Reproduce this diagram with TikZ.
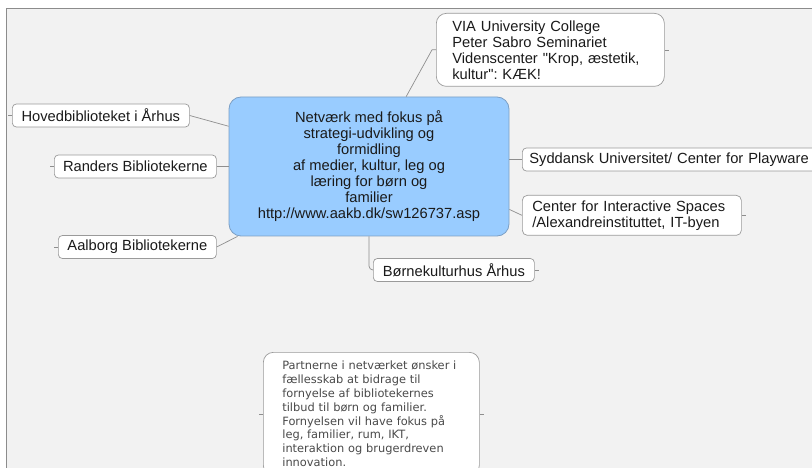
\documentclass[tikz,border=0pt]{standalone}
\usepackage{fontspec}
\setmainfont{Liberation Sans}
\newfontfamily\notefont{DejaVu Sans}
\usepackage{tikz}
\usetikzlibrary{positioning,calc}
\frenchspacing
\definecolor{canvas}{HTML}{F2F2F2}
\definecolor{framegray}{HTML}{8C8C8C}
\definecolor{ink}{HTML}{1A1A1A}
\definecolor{notegray}{HTML}{4A4A4A}
\definecolor{topicblue}{HTML}{99CCFF}
\definecolor{topicedge}{HTML}{7C9FC4}
\definecolor{leafedge}{HTML}{9A9A9A}
\definecolor{linkgray}{HTML}{8E8E8E}
\newcommand{\mapsize}{\fontsize{14.7}{16}\selectfont}
\newcommand{\notesize}{\notefont\fontsize{11.4}{13.8}\selectfont}
\newcommand{\dq}{\XeTeXglyph\XeTeXglyphindex "quotedbl"\relax}
\tikzset{
  topic/.style={draw=topicedge,fill=topicblue,line width=0.8pt,
                rounded corners=12pt,align=center,font=\mapsize,text=ink,
                inner sep=0pt,minimum width=280pt,minimum height=139pt},
  leaf/.style={draw=leafedge,fill=white,line width=0.7pt,rounded corners=4pt,
               font=\mapsize,text=ink,inner xsep=7pt,inner ysep=0pt,
               minimum height=23pt,anchor=west},
  bigleaf/.style={leaf,rounded corners=10pt,align=left,anchor=north west},
  notecard/.style={draw=leafedge,fill=white,line width=0.7pt,
                   rounded corners=10pt,align=left,anchor=north west,
                   font=\notesize,text=notegray,inner xsep=19pt,
                   inner ysep=5pt,text width=178pt,minimum height=123pt},
  link/.style={draw=linkgray,line width=0.7pt},
  stub/.style={draw=linkgray,line width=0.6pt}
}
\begin{document}
\begin{tikzpicture}[x=1pt,y=-1pt]
    \useasboundingbox (0,0) rectangle (812,468);
    \fill[white] (0,0) rectangle (812,468);
    \fill[canvas] (6,9) rectangle (812,468);
    \draw[framegray,line width=1pt] (6,468) -- (6,9) -- (812,9);

    \node[topic] (net) at (369,166.5)
      {Netværk med fokus på\\strategi-udvikling og\\formidling\\
       af medier, kultur, leg og\\læring for børn og\\familier\\
       http://www.aakb.dk/sw126737.asp};

    \node[bigleaf,text width=196pt,inner xsep=16pt,minimum height=73pt]
      (via) at (436,13)
      {VIA University College\\Peter Sabro Seminariet\\
       Videnscenter \dq Krop, æstetik,\\kultur\dq: KÆK!};
    \node[leaf,minimum width=177pt] (hoved) at (12,115.5)
      {Hovedbiblioteket i Århus};
    \node[leaf,minimum width=162pt] (randers) at (54,166.5)
      {Randers Bibliotekerne};
    \node[leaf,minimum width=158pt] (aalborg) at (58,247)
      {Aalborg Bibliotekerne};
    \node[leaf,minimum width=330pt,align=left,text width=316pt] (syd)
      at (522,159.5) {Syddansk Universitet/ Center for Playware};
    \node[bigleaf,rounded corners=5pt,text width=199pt,inner xsep=10pt,
          minimum height=40pt] (cis) at (522,195)
      {Center for Interactive Spaces\\/Alexandreinstituttet, IT-byen};
    \node[leaf,minimum width=161pt] (born) at (373,270)
      {Børnekulturhus Århus};

    \node[notecard] (note) at (263,352)
      {Partnerne i netværket ønsker i\\fællesskab at bidrage til\\
       fornyelse af bibliotekernes\\tilbud til børn og familier.\\
       Fornyelsen vil have fokus på\\leg, familier, rum, IKT,\\
       interaktion og brugerdreven\\innovation.};

    \draw[link] (net.62) -- ([xshift=-4pt]via.west) -- (via.west);
    \draw[link] (hoved.east) -- (net.164);
    \draw[link] (randers.east) -- (randers.east -| net.west);
    \draw[link] (aalborg.east) -- (net.208);
    \draw[link] (syd.west) -- (syd.west -| net.east);
    \draw[link] (net.-17) -- (cis.west);
    \draw[link,rounded corners=4pt] (net.south) |- (born.west);

    \foreach \n in {hoved,randers,aalborg,note}
      \draw[stub] (\n.west) -- ++(-4,0);
    \foreach \n in {via,cis,born,note}
      \draw[stub] (\n.east) -- ++(4,0);
  \end{tikzpicture}
\end{document}
